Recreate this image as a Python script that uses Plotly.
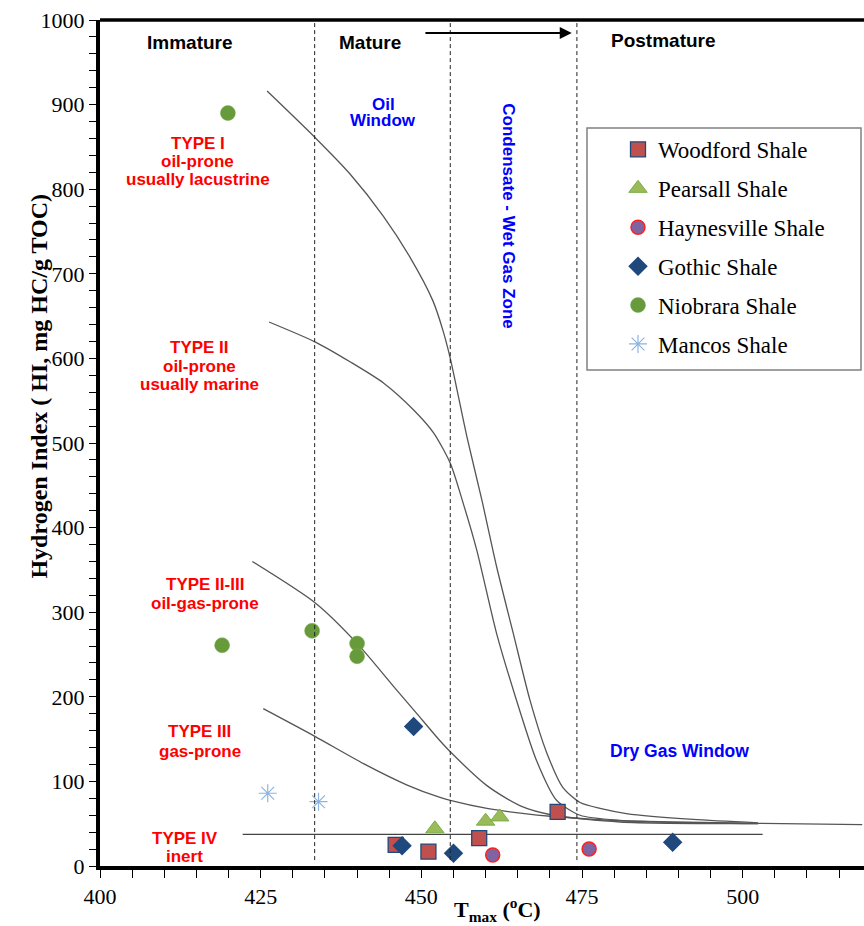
import plotly.graph_objects as go

# ---------------- data ----------------
woodford_x = [446.0, 451.1, 459.0, 471.2]
woodford_y = [25, 17, 33, 64]
pearsall_x = [452.1, 460.0, 462.2]
pearsall_y = [44, 53, 58]
haynesville_x = [461.1, 476.1]
haynesville_y = [13, 20]
gothic_x = [448.8, 447.0, 455.0, 489.1]
gothic_y = [165, 24, 15, 28]
niobrara_x = [419.9, 419.0, 433.0, 440.0, 440.0]
niobrara_y = [890, 261, 278, 263, 248]
mancos_x = [426.1, 434.0]
mancos_y = [86, 76]

type1_x = [426.0, 433.6, 438.9, 444.1, 448.2, 451.8, 453.4, 454.5, 457.1, 459.4,
           461.7, 464.3, 466.9, 469.5, 472.0, 474.7, 477.8, 481.9, 492.3, 502.4]
type1_y = [916, 860, 818, 768, 720, 668, 632, 600, 507, 433,
           354, 275, 196, 134, 93, 75, 68, 62, 55, 51]
type2_x = [426.3, 433.6, 438.9, 444.1, 448.8, 451.9, 454.5, 456.5, 458.6, 461.7,
           464.8, 467.9, 471.0, 474.7, 480.9, 502.4]
type2_y = [643, 619, 596, 571, 539, 512, 476, 429, 374, 275,
           196, 125, 78, 60, 54, 50]
type23_x = [423.7, 433.5, 439.9, 445.6, 449.2, 452.9, 454.5, 460.2, 465.4, 470.5, 480.9, 502.4]
type23_y = [360, 311, 264, 213, 181, 148, 135, 95, 71, 60, 52, 50]
type3_x = [425.4, 433.5, 441.0, 447.7, 452.9, 454.5, 460.2, 465.4, 470.5, 480.9, 502.4, 518.6]
type3_y = [186, 153, 121, 96, 81, 77.5, 68, 62.5, 58.5, 53.5, 50.5, 49]
type4_x = [422.2, 503.1]
type4_y = [37.5, 37.5]

zone_bounds = [433.4, 454.5, 474.2]

x_ticks = [400, 425, 450, 475, 500]
y_ticks = [0, 100, 200, 300, 400, 500, 600, 700, 800, 900, 1000]

X_RANGE = [400, 518.87]
Y_RANGE = [0, 1000]

SERIF = "Liberation Serif, Times New Roman, serif"
SANS = "Liberation Sans, Arial, sans-serif"
NARROW = "Liberation Sans Narrow, Arial Narrow, Liberation Sans, sans-serif"
CURVE = dict(color="#555555", width=1.3, shape="spline", smoothing=0.7)

fig = go.Figure()

# reference curves
for cx, cy in [(type1_x, type1_y), (type2_x, type2_y), (type23_x, type23_y),
               (type3_x, type3_y)]:
    fig.add_trace(go.Scatter(x=cx, y=cy, mode="lines", line=CURVE,
                             showlegend=False, hoverinfo="skip"))
fig.add_trace(go.Scatter(x=type4_x, y=type4_y, mode="lines",
                         line=dict(color="#444444", width=1.3),
                         showlegend=False, hoverinfo="skip"))

series = [
    ("Woodford Shale", woodford_x, woodford_y,
     dict(symbol="square", size=15, color="#C0504D", line=dict(color="#1F497D", width=1.3))),
    ("Pearsall Shale", pearsall_x, pearsall_y,
     dict(symbol="triangle-up", size=16, color="#9BBB59", line=dict(color="#7AAE4A", width=1))),
    ("Haynesville Shale", haynesville_x, haynesville_y,
     dict(symbol="circle", size=14, color="#8064A2", line=dict(color="#FF2020", width=1.5))),
    ("Gothic Shale", gothic_x, gothic_y,
     dict(symbol="diamond", size=15, color="#1F497D", line=dict(color="#1F497D", width=0))),
    ("Niobrara Shale", niobrara_x, niobrara_y,
     dict(symbol="circle", size=15, color="#669A3B", line=dict(color="#7AAA50", width=0.5))),
    ("Mancos Shale", mancos_x, mancos_y,
     dict(symbol="asterisk-open", size=15, color="#8DB4E2", line=dict(color="#8DB4E2", width=1.2))),
]
for i, (name, sx, sy, mk) in enumerate(series):
    fig.add_trace(go.Scatter(x=sx, y=sy, mode="markers", name=name, marker=mk,
                             legendgroup=f"g{i}"))

shapes = []
for xb in zone_bounds:
    shapes.append(dict(type="line", xref="x", yref="y", x0=xb, x1=xb, y0=7, y1=1000,
                       line=dict(color="#222222", width=1, dash="4px,3px")))
# top frame line
shapes.append(dict(type="line", xref="paper", yref="paper", x0=0, x1=1, y0=1, y1=1,
                   line=dict(color="black", width=3.5)))
# legend box
shapes.append(dict(type="rect", xref="paper", yref="paper",
                   x0=(587 - 100) / 764, x1=(861 - 100) / 764,
                   y0=(866 - 370) / 846, y1=(866 - 128) / 846,
                   line=dict(color="#808080", width=1.5), fillcolor="rgba(0,0,0,0)"))

ann = []
def txt(x, y, s, size, color, family=SANS, bold=True, **kw):
    ann.append(dict(x=x, y=y, xref="x", yref="y", text=f"<b>{s}</b>" if bold else s,
                    showarrow=False, font=dict(size=size, color=color, family=family), **kw))

txt(414.0, 974, "Immature", 19, "black", NARROW)
txt(442.0, 974, "Mature", 19, "black", NARROW)
txt(487.7, 976, "Postmature", 19, "black", NARROW)
txt(444.1, 900, "Oil", 17, "#0000FF", SANS)
txt(444.1, 881, "Window", 17, "#0000FF", SANS)
txt(463.5, 769, "Condensate - Wet Gas Zone", 17, "#0000FF", SANS, textangle=90)
txt(490.2, 136, "Dry Gas Window", 17.5, "#0000FF", SANS)

red_labels = [
    (415.2, [(854.6, "TYPE I"), (832.2, "oil-prone"), (810.9, "usually lacustrine")]),
    (415.5, [(612.3, "TYPE II"), (591.0, "oil-prone"), (568.6, "usually marine")]),
    (416.3, [(333.3, "TYPE II-III"), (309.7, "oil-gas-prone")]),
    (415.5, [(158.4, "TYPE III"), (135.9, "gas-prone")]),
    (413.2, [(33.1, "TYPE IV"), (11.8, "inert")]),
]
for lx, lines in red_labels:
    for ly, s in lines:
        txt(lx, ly, s, 17, "#FF0000", SANS)

# maturity arrow
ann.append(dict(x=473.4, y=984.6, ax=450.4, ay=984.6, xref="x", yref="y", axref="x", ayref="y",
                showarrow=True, arrowhead=2, arrowsize=1.2, arrowwidth=2, arrowcolor="black", text=""))

# axis titles
ann.append(dict(x=461.8, y=-0.052, xref="x", yref="paper", yanchor="middle",
                text="<b>T<sub>max</sub> (<sup>o</sup>C)</b>", showarrow=False,
                font=dict(size=22, color="black", family=SERIF)))
ann.append(dict(x=-0.1, y=(866 - 386) / 846, xref="paper", yref="paper", textangle=-90,
                text="<b>Hydrogen Index ( HI, mg HC/g TOC)</b>", showarrow=False,
                font=dict(size=24, color="black", family=SERIF)))

fig.update_layout(
    width=864, height=926,
    margin=dict(l=100, r=0, t=20, b=60),
    paper_bgcolor="white", plot_bgcolor="white",
    shapes=shapes, annotations=ann,
    legend=dict(x=(618 - 100) / 764, y=(866 - 128) / 846, xanchor="left", yanchor="top",
                font=dict(family=SERIF, size=23, color="black"),
                bgcolor="rgba(0,0,0,0)", borderwidth=0, tracegroupgap=6),
    xaxis=dict(range=X_RANGE, tickmode="array", tickvals=x_ticks, showgrid=False, zeroline=False,
               showline=True, linecolor="black", linewidth=4, ticks="outside", ticklen=8,
               tickwidth=1, tickcolor="black",
               minor=dict(dtick=5, ticks="outside", ticklen=8, tickcolor="black", tickwidth=1),
               tickfont=dict(family=SERIF, size=22, color="black")),
    yaxis=dict(range=Y_RANGE, tickmode="array", tickvals=y_ticks, showgrid=False, zeroline=False,
               showline=True, linecolor="black", linewidth=4, ticks="outside", ticklen=7,
               tickwidth=1, tickcolor="black",
               minor=dict(dtick=20, ticks="outside", ticklen=7, tickcolor="black", tickwidth=1),
               tickfont=dict(family=SERIF, size=22, color="black")),
)

fig.write_html("out.html")
